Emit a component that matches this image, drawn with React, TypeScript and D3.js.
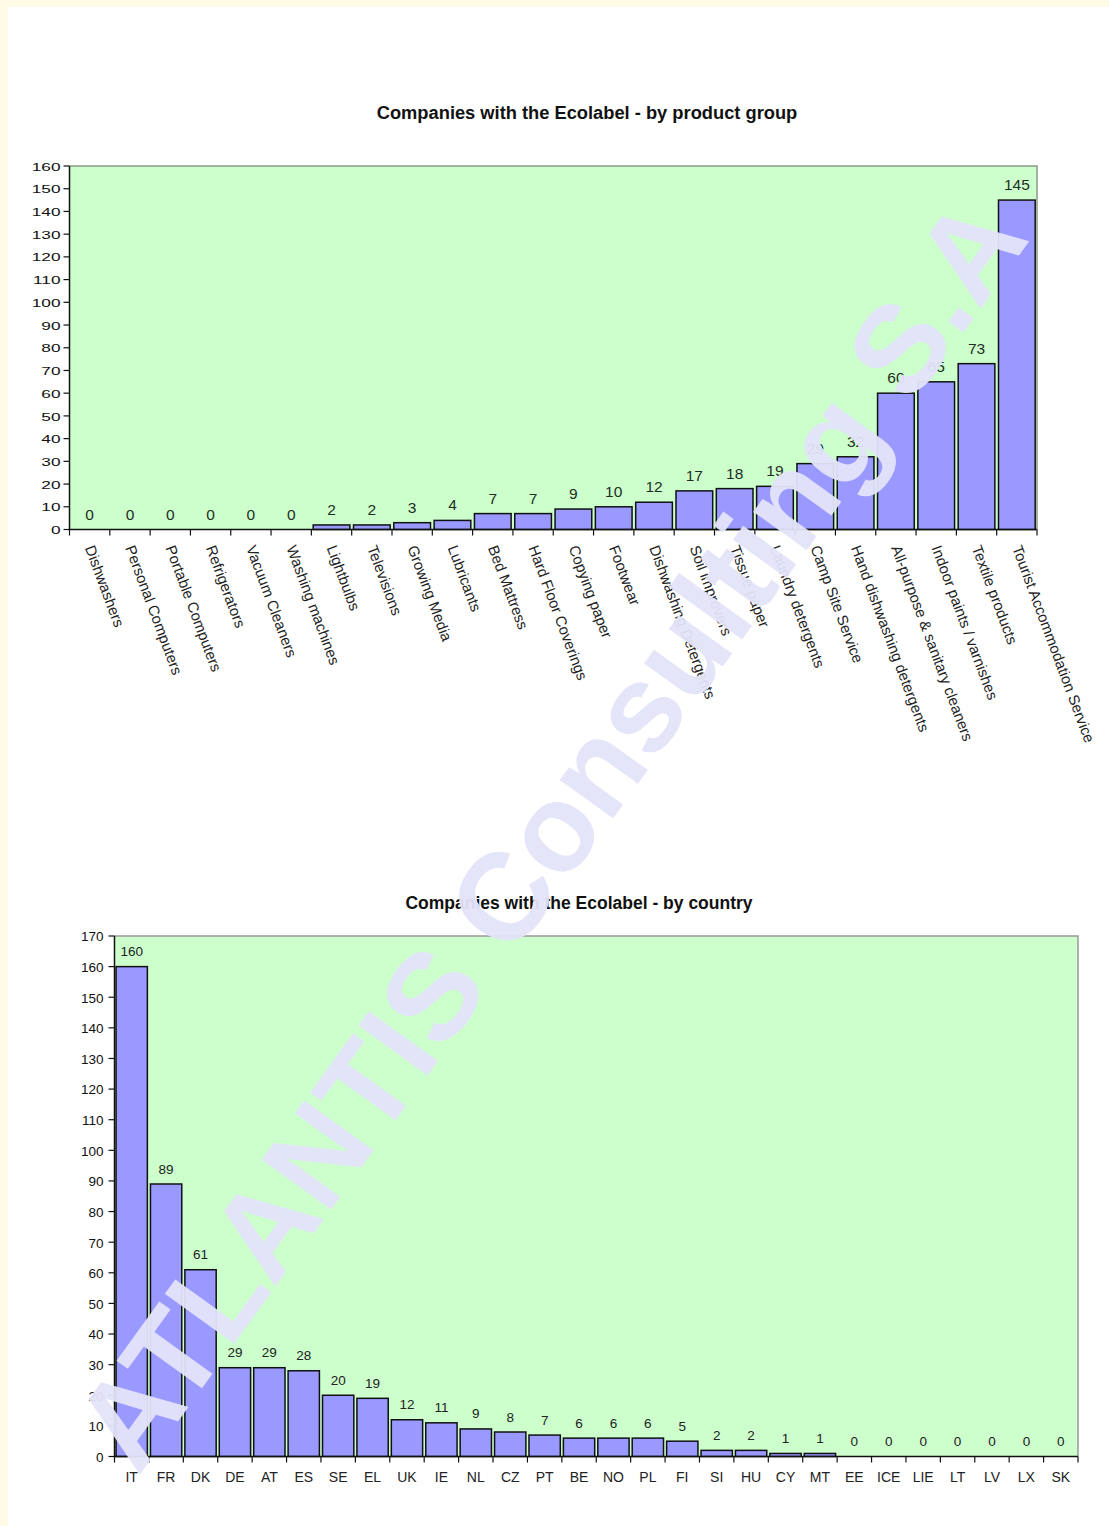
import React from 'react';
import * as d3 from 'd3';

const W = 1109;
const H = 1526;
const FONT = 'Arial, "Liberation Sans", Helvetica, sans-serif';

// ─── data ───────────────────────────────────────────────────────────────────

const productGroups = [
  'Dishwashers',
  'Personal Computers',
  'Portable Computers',
  'Refrigerators',
  'Vacuum Cleaners',
  'Washing machines',
  'Lightbulbs',
  'Televisions',
  'Growing Media',
  'Lubricants',
  'Bed Mattress',
  'Hard Floor Coverings',
  'Copying paper',
  'Footwear',
  'Dishwashing Detergents',
  'Soil improvers',
  'Tissue paper',
  'Laundry detergents',
  'Camp Site Service',
  'Hand dishwashing detergents',
  'All-purpose & sanitary cleaners',
  'Indoor paints / varnishes',
  'Textile products',
  'Tourist Accommodation Service',
];
const productCounts = [0, 0, 0, 0, 0, 0, 2, 2, 3, 4, 7, 7, 9, 10, 12, 17, 18, 19, 29, 32, 60, 65, 73, 145];

const countries = [
  'IT', 'FR', 'DK', 'DE', 'AT', 'ES', 'SE', 'EL', 'UK', 'IE', 'NL', 'CZ', 'PT', 'BE',
  'NO', 'PL', 'FI', 'SI', 'HU', 'CY', 'MT', 'EE', 'ICE', 'LIE', 'LT', 'LV', 'LX', 'SK',
];
const countryCounts = [160, 89, 61, 29, 29, 28, 20, 19, 12, 11, 9, 8, 7, 6, 6, 6, 5, 2, 2, 1, 1, 0, 0, 0, 0, 0, 0, 0];

// ─── panel ──────────────────────────────────────────────────────────────────

interface PanelProps {
  title: string;
  titleX: number;
  titleY: number;
  titleSize: number;
  categories: string[];
  values: number[];
  yMax: number;
  left: number;
  top: number;
  right: number;
  bottom: number;
  tickFont: number;
  tickStretch: number;
  tickGap: number;
  valueFont: number;
  valueColor: string;
  valueGap: number;
  labelFont: number;
  labelAngle: number; // 0 = horizontal, centred under band
  labelY: number;
  frameColor: string;
}

const BarPanel: React.FC<PanelProps> = p => {
  const x = d3
    .scaleBand<string>()
    .domain(p.categories)
    .range([p.left, p.right])
    .paddingInner(0.09)
    .paddingOuter(0.045);
  const y = d3.scaleLinear().domain([0, p.yMax]).range([p.bottom, p.top]);
  const ticks = y.ticks(p.yMax / 10);
  const step = x.step();
  const centre = (c: string) => (x(c) ?? 0) + x.bandwidth() / 2;
  const bounds = [...p.categories.map(c => centre(c) - step / 2), centre(p.categories[p.categories.length - 1]) + step / 2];

  return (
    <g fontFamily={FONT}>
      <text x={p.titleX} y={p.titleY} textAnchor="middle" fontWeight="bold" fontSize={p.titleSize} fill="#111">
        {p.title}
      </text>

      <rect x={p.left} y={p.top} width={p.right - p.left} height={p.bottom - p.top} fill="#ccffcc" />
      <path d={`M${p.left},${p.top}H${p.right}V${p.bottom}`} stroke={p.frameColor} strokeWidth={1.5} fill="none" />

      {p.categories.map((c, i) => (
        <rect
          key={c}
          x={x(c)}
          y={y(p.values[i])}
          width={x.bandwidth()}
          height={p.bottom - y(p.values[i])}
          fill="#9999ff"
          stroke="#111"
          strokeWidth={1.5}
        />
      ))}

      {/* axes */}
      <path d={`M${p.left},${p.top}V${p.bottom}H${p.right}`} stroke="#111" strokeWidth={1.5} fill="none" />
      {ticks.map(t => (
        <g key={t}>
          <line x1={p.left - 6} x2={p.left} y1={y(t)} y2={y(t)} stroke="#111" strokeWidth={1.2} />
          <text
            transform={`translate(${p.left - p.tickGap},${y(t) + p.tickFont * 0.4}) scale(${p.tickStretch},1)`}
            textAnchor="end"
            fontSize={p.tickFont}
            fill="#111"
          >
            {t}
          </text>
        </g>
      ))}
      {bounds.map((b, i) => (
        <line key={i} x1={b} x2={b} y1={p.bottom} y2={p.bottom + 6} stroke="#111" strokeWidth={1.2} />
      ))}

      {/* value labels */}
      {p.categories.map((c, i) => (
        <text
          key={c}
          x={centre(c)}
          y={y(p.values[i]) - p.valueGap}
          textAnchor="middle"
          fontSize={p.valueFont}
          fill={p.valueColor}
        >
          {p.values[i]}
        </text>
      ))}

      {/* category labels */}
      {p.categories.map(c =>
        p.labelAngle ? (
          <text
            key={c}
            transform={`translate(${centre(c)},${p.labelY}) rotate(${p.labelAngle})`}
            dy="0.35em"
            fontSize={p.labelFont}
            fill="#222"
          >
            {c}
          </text>
        ) : (
          <text key={c} x={centre(c)} y={p.labelY} textAnchor="middle" fontSize={p.labelFont} fill="#222">
            {c}
          </text>
        ),
      )}
    </g>
  );
};

export default function App() {
  return (
    <div style={{ position: 'absolute', left: 0, top: 0 }}>
      <svg width={W} height={H} style={{ display: 'block' }}>
        <rect width={W} height={H} fill="#fffbe6" />
        <rect x={8} y={7} width={W - 8} height={H - 7} fill="#ffffff" />

        <BarPanel
          title="Companies with the Ecolabel - by product group"
          titleX={587}
          titleY={119}
          titleSize={18.3}
          categories={productGroups}
          values={productCounts}
          yMax={160}
          left={69.5}
          top={166}
          right={1037}
          bottom={529.5}
          tickFont={11.5}
          tickStretch={1.5}
          tickGap={9}
          valueFont={15.5}
          valueColor="#1e2e1e"
          valueGap={10}
          labelFont={15}
          labelAngle={69.5}
          labelY={546}
          frameColor="#8a9a8a"
        />

        <BarPanel
          title="Companies with the Ecolabel - by country"
          titleX={579}
          titleY={909}
          titleSize={17.5}
          categories={countries}
          values={countryCounts}
          yMax={170}
          left={114.5}
          top={936}
          right={1078}
          bottom={1456.5}
          tickFont={13.5}
          tickStretch={1}
          tickGap={11}
          valueFont={13.5}
          valueColor="#222"
          valueGap={10.5}
          labelFont={14}
          labelAngle={0}
          labelY={1482}
          frameColor="#999999"
        />

        {/* watermark */}
        <text
          transform="translate(138,1477) rotate(-54.2)"
          fontFamily={FONT}
          fontWeight="bold"
          fontSize={124}
          fill="#e4e4fa"
          opacity={0.95}
        >
          ATLANTIS Consulting S.A
        </text>
      </svg>
    </div>
  );
}
